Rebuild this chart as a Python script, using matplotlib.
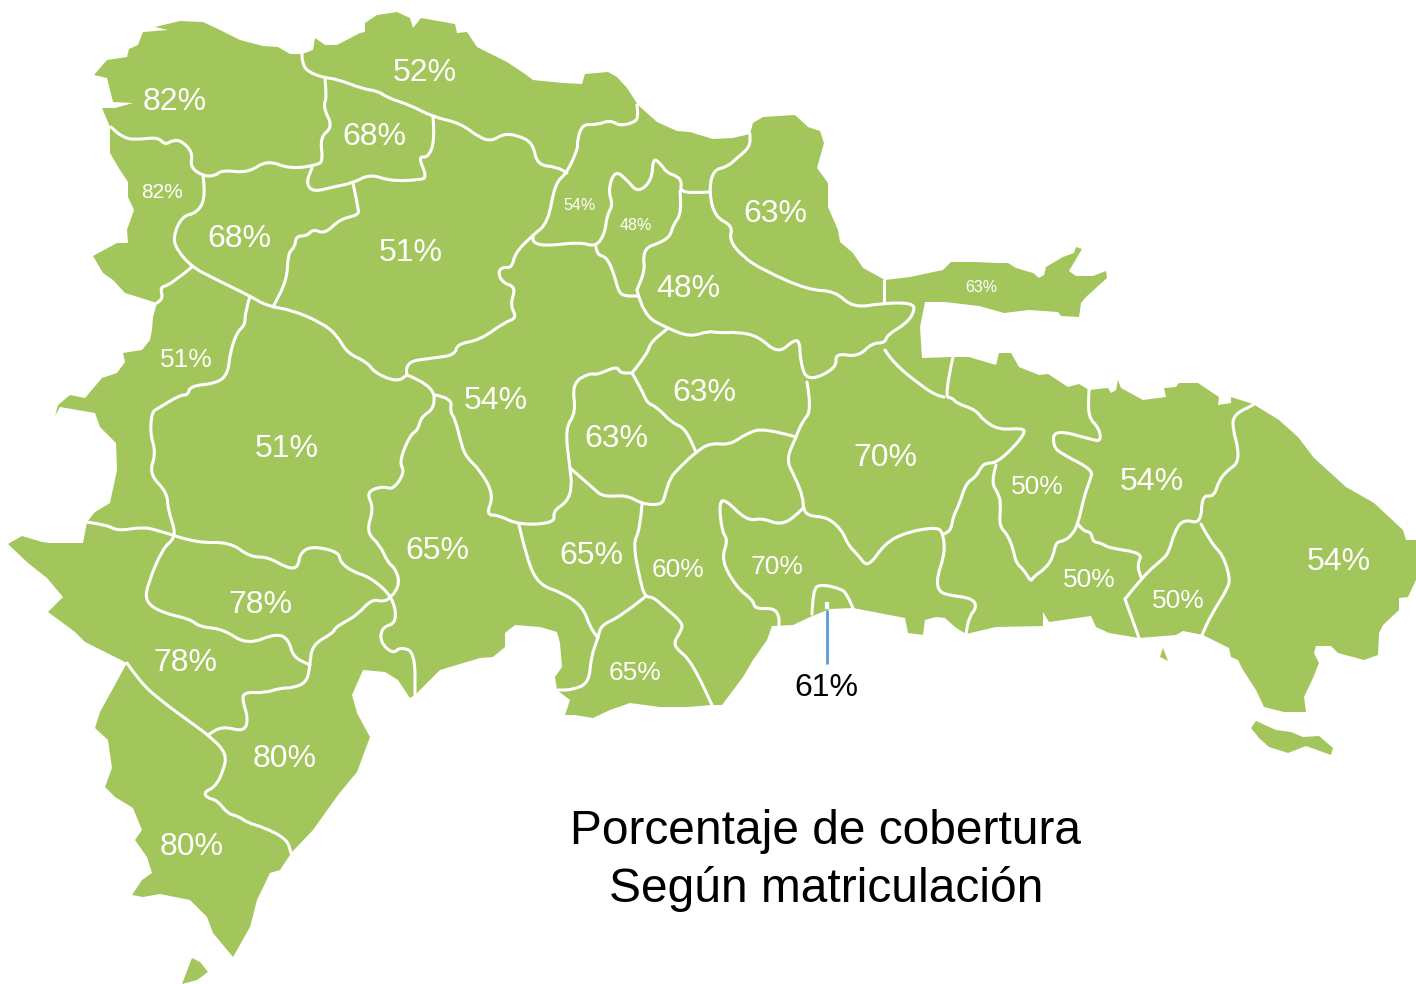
#!/usr/bin/env python3
# -*- coding: utf-8 -*-
"""
Porcentaje de cobertura por provincia (mapa de Republica Dominicana)
outlines traced by hand from the picture, in pixel coordinates
"""

import matplotlib
matplotlib.use('Agg')
import matplotlib.pyplot as plt
from matplotlib.patches import Polygon, PathPatch
from matplotlib.path import Path

plt.rcParams['font.family'] = ['Liberation Sans', 'DejaVu Sans']

GREEN = '#a2c65b'

# --- coast and islands
coast = [(94,75),(107,60),(127,57),(129,49),(138,45),(143,32),(168,30),(155,27),(180,21),(203,22),(220,30),(240,40),(263,46),
    (278,47),(290,54),(302,54),(313,50),(315,38),(325,45),(337,45),(360,33),(365,32),(365,23),(377,15),(397,12),(410,18),(413,28),
    (421,18),(455,24),(457,33),(467,32),(477,47),(507,62),(525,74),(533,80),(563,83),(582,84),(585,74),(608,72),(617,77),(627,88),
    (638,105),(657,122),(677,131),(690,132),(713,139),(733,138),(750,134),(753,123),(763,117),(795,115),(808,127),(820,131),(824,143),
    (817,168),(828,183),(828,207),(838,230),(840,242),(853,253),(863,268),(885,280),(910,277),(943,270),(951,262),(976,262),(996,263),
    (1008,263),(1016,268),(1033,273),(1039,278),(1044,275),(1046,267),(1063,257),(1074,253),(1076,247),(1082,249),(1069,271),(1076,276),
    (1093,276),(1106,271),(1107,278),(1086,297),(1081,303),(1079,317),(1061,316),(1058,312),(1029,310),(1004,313),(979,306),(936,301),
    (957,302),(925,302),(920,327),(922,358),(953,357),(969,357),(996,365),(999,353),(1011,353),(1019,367),(1039,375),(1048,374),(1068,387),
    (1079,384),(1089,390),(1108,388),(1111,393),(1116,390),(1118,380),(1121,388),(1143,400),(1166,397),(1164,388),(1176,387),(1179,383),
    (1198,383),(1219,397),(1218,405),(1231,403),(1231,397),(1253,404),(1279,420),(1298,437),(1314,458),(1346,487),(1374,503),(1403,530),
    (1406,540),(1416,540),(1416,580),(1408,597),(1399,598),(1399,610),(1383,625),(1379,633),(1378,655),(1364,660),(1338,653),(1331,646),
    (1316,646),(1314,653),(1319,663),(1313,678),(1304,697),(1306,712),(1284,712),(1264,707),(1256,690),(1243,670),(1238,660),(1231,657),
    (1229,648),(1203,635),(1183,631),(1176,635),(1139,638),(1109,633),(1096,627),(1091,616),(1049,622),(1043,612),(1043,626),(996,627),
    (966,634),(955,627),(945,618),(936,617),(925,620),(923,635),(908,633),(905,618),(853,608),(830,609),(810,617),(793,625),(772,626),(767,640),
    (753,660),(743,677),(722,705),(712,705),(687,707),(660,707),(630,703),(610,710),(593,718),(575,715),(565,715),(570,700),(557,690),
    (555,677),(562,667),(560,643),(557,632),(540,627),(515,625),(505,633),(505,647),(493,657),(480,658),(440,670),(415,695),(410,698),
    (398,680),(385,672),(363,670),(352,695),(357,713),(370,737),(357,772),(338,795),(313,830),(292,852),(280,870),(270,873),(257,900),
    (250,927),(237,950),(233,957),(213,933),(207,917),(190,900),(160,894),(143,897),(132,895),(142,880),(152,873),(147,857),(135,840),
    (142,830),(133,808),(115,797),(105,787),(112,768),(108,740),(95,728),(100,712),(127,663),(85,642),(75,632),(48,612),(63,597),(47,578),
    (28,563),(8,544),(22,536),(42,542),(50,543),(83,543),(87,522),(95,512),(110,503),(117,470),(116,443),(100,427),(95,413),(60,407),
    (55,416),(58,405),(70,395),(85,398),(102,378),(117,373),(125,362),(123,353),(142,350),(150,340),(152,330),(153,317),(157,303),(125,293),
    (113,280),(103,273),(93,256),(117,243),(128,243),(127,230),(134,210),(128,197),(128,182),(120,170),(110,153),(110,127),(102,108),
    (115,108),(133,103),(113,102),(107,78)]
saona = [(1251,728),(1256,721),(1276,730),(1291,732),(1303,737),(1319,736),(1333,748),(1331,755),(1306,746),(1288,753),(1269,747),(1259,738)]
catalina = [(1160,657),(1163,648),(1168,661)]
beata = [(192,958),(200,962),(208,972),(197,980),(182,984)]

# --- province borders
b_north = [(302,54),(302,63),(308,72),(325,78),(337,79),(363,89),(378,91),(388,98),(410,105),(433,117),(460,123),(480,138),(492,141),(503,134),
    (517,135),(533,143),(537,165),(557,167),(567,173)]
b_mc_south = [(325,80),(327,97),(323,107),(333,127),(320,137),(323,160),(318,165),(290,169),(267,160),(248,173),(222,170),(215,176),(203,176),
    (190,167),(193,153),(182,141),(173,140),(165,145),(158,137),(135,140),(122,137),(111,127)]
b_valverde = [(433,117),(435,140),(428,158),(418,156),(427,177),(420,180),(390,181),(370,174),(353,183),(333,187),(313,192),(306,183),(312,168)]
b_santiago_w = [(353,183),(358,207),(359,215),(340,219),(325,234),(313,229),(307,236),(296,236),(295,247),(288,253),(287,280),(273,307)]
b_rodriguez = [(203,176),(206,197),(197,213),(182,216),(173,237),(177,250),(192,267),(213,278),(250,296),(267,306),(292,310),(322,323),(337,335),
    (347,353),(367,362),(375,373),(397,382),(407,375)]
b_dajabon = [(192,267),(170,285),(160,287),(163,298),(157,303)]
b_sanjuan_w = [(250,296),(245,313),(245,325),(237,332),(230,353),(228,373),(218,383),(190,386),(188,395),(180,395),(157,409),(152,412),(150,433),
    (156,453),(149,474),(167,492),(168,510),(175,530),(173,540),(163,548),(148,583),(145,602),(163,613),(190,619),(200,627),(223,629),(247,645),
    (277,633),(289,640),(293,657),(310,665)]
b_elias = [(87,522),(107,525),(118,531),(142,527),(157,530),(197,543),(230,542),(250,557),(268,557),(287,568),(298,568),(300,553),(312,546),(339,552),
    (340,562),(353,572),(370,577),(393,597),(397,623),(382,627),(380,642),(393,654),(400,647),(415,652),(415,698)]
b_sanjuan_n = [(407,375),(404,362),(433,358),(455,355),(457,344),(480,340),(505,322),(517,318),(510,305),(516,287),(503,283),(498,273),(502,267),(512,268),
    (515,253),(533,235),(548,223),(555,183),(567,173),(578,148),(577,142),(582,124),(597,125),(610,120),(620,126),(635,122),(638,117),(637,105)]
b_azua_w = [(407,375),(433,385),(435,408),(421,417),(418,430),(410,435),(399,462),(405,472),(393,490),(383,486),(366,492),(374,508),(366,532),(380,545),
    (388,563),(395,568),(400,583),(392,597),(383,602),(372,599),(357,615),(343,623),(335,628),(333,633),(312,645),(310,665),(307,682),(293,688),(280,688),
    (265,693),(243,692),(243,703),(248,717),(245,732),(222,726),(208,735)]
b_pedernales = [(127,663),(140,682),(160,700),(197,727),(208,735),(227,753),(223,772),(215,787),(204,792),(207,798),(217,800),(228,814),(238,816),(248,823),
    (263,827),(287,839),(291,853)]
b_azua_e = [(435,395),(452,398),(450,412),(455,418),(462,447),(467,458),(480,470),(494,495),(486,515),(498,515),(519,525),(555,523),(553,511),(567,502),
    (572,487),(570,468),(565,428),(576,413),(572,383),(590,373),(597,375),(617,366),(620,373),(632,373)]
b_sanchez_w = [(632,373),(648,353),(650,343),(667,329)]
b_duarte = [(637,290),(643,315),(667,328),(690,337),(708,331),(720,333),(737,332),(758,336),(778,354),(795,339),(800,343),(800,360),(807,382),(837,368),
    (835,353),(858,357),(872,343),(885,343),(887,335),(907,323),(915,310),(912,303),(884,303),(853,308),(835,291),(808,290),(763,270),(743,257),(729,240),
    (733,226),(715,217),(709,192),(713,170),(727,167),(737,158),(750,147),(750,134)]
b_samana_cut = [(884,280),(884,303)]
b_espaillat = [(709,192),(693,193),(680,191),(682,182),(677,176),(667,173),(660,163),(653,158),(652,180),(638,193),(627,180),(615,170),(608,190),(613,205),
    (607,215),(605,233),(596,247),(580,242),(547,246),(533,243),(533,235)]
b_salcedo_w = [(596,247),(597,255),(607,257),(615,277),(618,290),(623,296),(637,296)]
b_salcedo_e = [(680,191),(682,213),(673,225),(670,237),(657,244),(647,247),(643,257),(645,270),(637,290)]
b_bonao = [(632,373),(642,390),(647,403),(657,407),(672,423),(685,428),(696,452)]
b_peravia = [(796,437),(765,428),(747,433),(730,445),(710,443),(696,452),(680,467),(670,478),(665,495),(662,505),(642,504),(627,495),(603,497),(593,488),(570,468)]
b_monte_plata = [(807,382),(812,410),(802,422),(796,437),(786,460),(795,477),(803,497),(803,508),(808,516),(827,517),(842,530),(848,545),(858,555),(868,568),
    (885,543),(907,532),(937,527),(943,533),(945,553),(937,577),(938,590),(946,595),(972,598),(977,607),(969,617),(966,634)]
b_san_cristobal = [(803,508),(795,517),(780,525),(762,518),(747,521),(725,499),(719,503),(722,532),(728,540),(721,560),(737,588),(753,600),(755,609),(773,608),
    (779,615),(779,625)]
b_ocoa = [(642,504),(640,530),(633,543),(640,580),(645,597),(653,597),(662,605),(682,622),(682,630),(673,643),(680,652),(687,657),(698,675),(712,705)]
b_bani_s = [(645,597),(620,617),(601,625),(598,638),(591,657),(589,683),(572,690),(558,690)]
b_bani_w = [(519,525),(527,560),(539,585),(563,593),(583,607),(590,627),(598,638)]
b_dn = [(812,614),(813,590),(820,584),(842,589),(847,595),(853,608)]
b_hato_n = [(953,357),(944,397),(953,398),(956,403),(976,410),(983,420),(999,430),(1023,428),(1025,433),(1013,448),(996,463),(986,463),(981,467),(976,477),(966,483),
    (959,505),(953,517),(951,530),(944,534)]
b_sanchez_e = [(885,350),(893,363),(923,387),(936,395),(944,397)]
b_sanpedro = [(996,465),(991,482),(998,493),(1001,503),(999,526),(1008,535),(1014,552),(1016,563),(1024,570),(1031,582),(1033,577),(1046,568),(1053,557),(1056,542),
    (1064,541),(1072,535),(1078,524),(1084,497),(1090,480),(1093,470),(1064,455),(1053,447),(1054,429),(1093,440),(1101,441),(1099,428),(1088,417),(1089,390)]
b_romana_n = [(1078,524),(1083,531),(1091,532),(1093,542),(1101,543),(1109,548),(1143,553),(1137,565),(1141,577)]
b_seibo = [(1125,599),(1144,575),(1163,559),(1169,552),(1174,533),(1183,519),(1201,524),(1202,495),(1214,497),(1219,480),(1228,470),(1238,463),(1238,447),(1233,430),
    (1233,415),(1253,405)]
b_romana_w = [(1125,599),(1139,638)]
b_romana_e = [(1201,524),(1211,543),(1223,555),(1230,578),(1228,588),(1211,615),(1202,635)]

borders = [b_north, b_mc_south, b_valverde, b_santiago_w, b_rodriguez, b_dajabon, b_sanjuan_w, b_elias, b_sanjuan_n, b_azua_w, b_pedernales,
    b_azua_e, b_sanchez_w, b_duarte, b_samana_cut, b_espaillat, b_salcedo_w, b_salcedo_e, b_bonao, b_peravia, b_monte_plata, b_san_cristobal,
    b_ocoa, b_bani_s, b_bani_w, b_dn, b_hato_n, b_sanchez_e, b_sanpedro, b_romana_n, b_seibo, b_romana_w, b_romana_e]

# --- labels
pct_large = ['52%','82%','68%','68%','51%','63%','48%','54%','63%','63%','51%','70%','54%','54%','65%','65%','78%','78%','80%','80%']
xy_large = [(425,71),(175,100),(374,135),(239,237),(411,251),(775,212),(688,287),(496,399),(704,391),(616,437),(287,447),(885,456),
    (1152,480),(1339,560),(437,549),(591,554),(260,603),(185,661),(285,757),(192,845)]
pct_mid = ['51%','50%','60%','70%','50%','65%','50%']
xy_mid = [(186,358),(1037,485),(678,568),(777,565),(1089,578),(635,671),(1178,599)]
pct_small = ['82%','54%','48%','63%']
xy_small = [(162,192),(580,204),(636,225),(981,286)]
size_small = [15, 11.5, 11.5, 11.5]
title_lines = ['Porcentaje de cobertura', 'Según matriculación']
dn_pct = '61%'


def smooth_path(pts):
    # quadratic curves through the midpoints, the traced points act as controls
    verts = [pts[0]]
    codes = [Path.MOVETO]
    for i in range(1, len(pts) - 1):
        mid = ((pts[i][0] + pts[i + 1][0]) / 2, (pts[i][1] + pts[i + 1][1]) / 2)
        verts += [pts[i], mid]
        codes += [Path.CURVE3, Path.CURVE3]
    verts.append(pts[-1])
    codes.append(Path.LINETO)
    return Path(verts, codes)


fig = plt.figure(figsize=(14.16, 9.84), dpi=100)
ax = fig.add_axes([0, 0, 1, 1])
ax.set_xlim(0, 1416)
ax.set_ylim(984, 0)
ax.axis('off')

for shape in [coast, saona, catalina, beata]:
    ax.add_patch(Polygon(shape, closed=True, fc=GREEN, ec='none'))

for b in borders:
    ax.add_patch(PathPatch(smooth_path(b), fc='none', ec='white', lw=2.2,
                           joinstyle='round', capstyle='round'))

for txt, (x, y) in zip(pct_large, xy_large):
    ax.text(x, y + 2, txt, color='white', fontsize=23, ha='center', va='center')
for txt, (x, y) in zip(pct_mid, xy_mid):
    ax.text(x, y + 2, txt, color='white', fontsize=19, ha='center', va='center')
for txt, (x, y), s in zip(pct_small, xy_small, size_small):
    ax.text(x, y + 1, txt, color='white', fontsize=s, ha='center', va='center')

# Distrito Nacional callout
ax.plot([827, 827], [602, 609], color='white', lw=3, solid_capstyle='butt')
ax.plot([827, 827], [610, 664], color='#5b9bd5', lw=2, solid_capstyle='butt')
ax.text(826, 688, dn_pct, color='black', fontsize=23, ha='center', va='center')

ax.text(826, 832, title_lines[0], color='black', fontsize=34.5, ha='center', va='center')
ax.text(826, 889, title_lines[1], color='black', fontsize=34.5, ha='center', va='center')

fig.savefig('out.png', dpi=100)
